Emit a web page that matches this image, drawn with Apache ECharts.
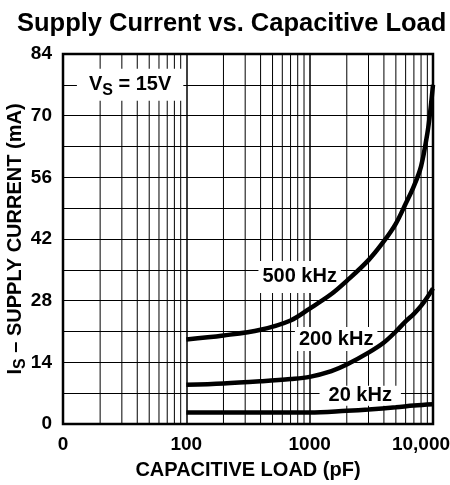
<!DOCTYPE html>
<html><head><meta charset="utf-8">
<script src="https://cdn.jsdelivr.net/npm/echarts@6/dist/echarts.min.js"></script>
<style>html,body{margin:0;padding:0;background:#fff}#c{width:450px;height:485px}</style>
</head><body><div id="c"></div>
<script>
// ---- data ----
const capLoad500 = [100,200,400,700,1000,1500,2000,3000,4000,5000,6000,7000,8000,9000,9500,10000];
const current500 = [19.2,20.1,21.4,23.5,26.2,29.5,32.5,37.2,41.5,45.5,50,54,58.5,66,71,77];
const capLoad200 = [100,200,400,700,1000,1500,2000,3000,4000,5000,6000,7000,8000,9000,10000];
const current200 = [8.9,9.2,9.7,10.2,10.7,12,13.5,16.2,18.5,21,23.3,25,26.8,28.8,30.8];
const capLoad20 = [100,300,1000,2000,3000,5000,7000,10000];
const current20 = [2.6,2.6,2.6,3.0,3.3,3.8,4.2,4.5];
const xTickLabels = {10:'0',100:'100',1000:'1000',10000:'10,000'};
const minorGridX = [20,30,40,50,60,70,80,90,200,300,400,500,600,700,800,900,2000,3000,4000,5000,6000,7000,8000,9000];
const yRange = [0, 84];
const annoX = [35, 830, 1640, 2570];
const annoY = [77, 33.4, 19.3, 6.4];
const annoText = ['{v|V}{s|S}{v| = 15V}', '{t|500 kHz}', '{t|200 kHz}', '{t|20 kHz}'];

// ---- styles ----
const FONT = '"Liberation Sans", Arial, Helvetica, sans-serif';
const annoPadding = [[2,12,2,12],[6,4,6,4],[2,4,2,4],[0,9,0,9]];
const txt = (size, extra) => Object.assign({fontFamily:FONT, fontSize:size, fontWeight:'bold', color:'#000',
  textBorderWidth:0, textBorderColor:'transparent', textShadowBlur:0}, extra || {});

function zip(xs, ys){ return xs.map((x,i)=>[x, ys[i]]); }

const curveStyle = {color:'#000', width:4.5};
function curve(name, xs, ys){
  return {type:'line', name, data:zip(xs,ys), showSymbol:false, symbol:'none',
    smooth:0.35, lineStyle:curveStyle, z:10, silent:true, animation:false};
}

const chart = echarts.init(document.getElementById('c'), null, {renderer:'canvas'});
chart.setOption({
  backgroundColor:'#fff',
  animation:false,
  title:{text:'Supply Current vs. Capacitive Load', left:12, top:6, padding:5,
    textStyle:txt(25.5)},
  grid:{left:63, right:17, top:54, bottom:61, show:true, borderColor:'#000', borderWidth:2.5,
    backgroundColor:'transparent', outerBoundsMode:'none', containLabel:false},
  xAxis:{type:'log', logBase:10, min:10, max:10000,
    name:'CAPACITIVE LOAD (pF)', nameLocation:'middle', nameGap:36, nameMoveOverlap:false,
    nameTextStyle:txt(20),
    axisLine:{show:false}, axisTick:{show:false},
    axisLabel:Object.assign(txt(19), {margin:11,
      formatter:v=>{const k=Math.round(v); return k===10000?'{last|10,000}':(xTickLabels[k]||'');},
      rich:{last:txt(19, {padding:[0,24,0,0]})}}),
    splitLine:{show:true, lineStyle:{color:'#000', width:1.5}}},
  yAxis:{type:'value', min:yRange[0], max:yRange[1], interval:14,
    name:'{i|I}{s|S}{n| – SUPPLY CURRENT (mA)}', nameLocation:'middle', nameGap:34, nameMoveOverlap:false,
    nameTextStyle:txt(20, {rich:{i:txt(20,{lineHeight:28}),
            s:txt(16,{lineHeight:16,verticalAlign:'bottom'}),
            n:txt(20,{lineHeight:28})}}),
    axisLine:{show:false}, axisTick:{show:false},
    axisLabel:Object.assign(txt(19), {margin:11}),
    splitLine:{show:true, lineStyle:{color:'#000', width:1}},
    minorTick:{show:false, splitNumber:2},
    minorSplitLine:{show:true, lineStyle:{color:'#000', width:1}}},
  series:[
    {type:'custom', z:1, silent:true, animation:false,
      data:minorGridX,
      encode:{x:0},
      renderItem:(params, api)=>{
        const v = api.value(0);
        const p0 = api.coord([v, yRange[0]]);
        const p1 = api.coord([v, yRange[1]]);
        return {type:'line', shape:{x1:p0[0], y1:p0[1], x2:p1[0], y2:p1[1]},
          style:{stroke:'#000', lineWidth:1}};
      }},
    {type:'scatter', z:6, silent:true, animation:false, symbolSize:0,
      itemStyle:{color:'#fff', opacity:1},
      data:annoX.map((x,i)=>({value:[x, annoY[i]],
        label:{formatter:annoText[i], padding:annoPadding[i]}})),
      label:Object.assign(txt(20), {show:true, position:'inside', backgroundColor:'#fff',
        rich:{v:txt(20,{lineHeight:28}),
              s:txt(16,{lineHeight:16,verticalAlign:'bottom'}),
              t:txt(20)}})},
    curve('500 kHz', capLoad500, current500),
    curve('200 kHz', capLoad200, current200),
    curve('20 kHz', capLoad20, current20)
  ]
});
</script></body></html>
